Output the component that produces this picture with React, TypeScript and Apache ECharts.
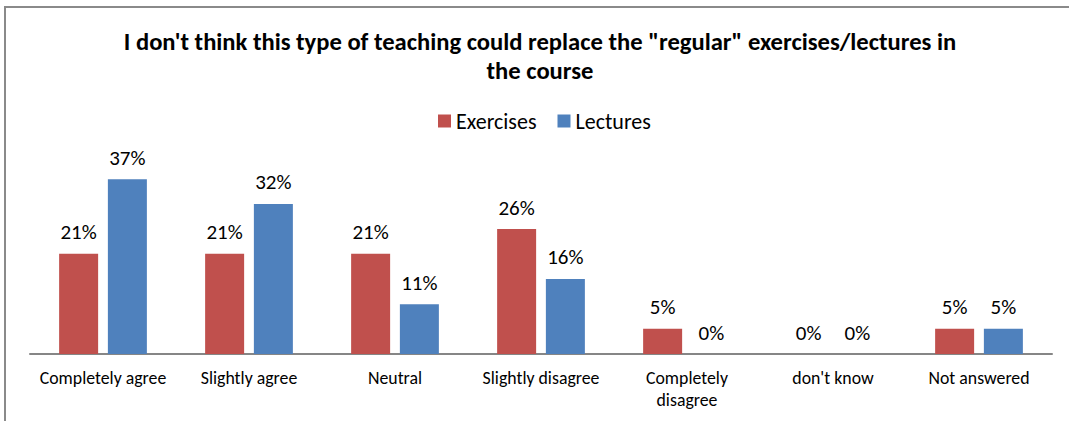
import React, { useEffect, useRef } from "react";
import * as echarts from "echarts";

const categories = [
  "Completely agree",
  "Slightly agree",
  "Neutral",
  "Slightly disagree",
  "Completely disagree",
  "don't know",
  "Not answered",
];
const exercises = [21.1, 21.1, 21.1, 26.3, 5.3, 0, 5.3];
const lectures = [36.8, 31.6, 10.5, 15.8, 0, 0, 5.3];
const titleText =
  "I don't think this type of teaching could replace the \"regular\" exercises/lectures in\nthe course";

const FONT = "Carlito, Lato, 'Liberation Sans', sans-serif";

export default function App() {
  const ref = useRef<HTMLDivElement>(null);
  useEffect(() => {
    if (!ref.current) return;
    const chart = echarts.init(ref.current, undefined, { renderer: "svg" });
    const label = {
      show: true,
      position: "top" as const,
      distance: 11,
      fontSize: 21,
      fontFamily: FONT,
      color: "#000",
      formatter: (p: any) => Math.round(p.value) + "%",
    };
    chart.setOption({
      animation: false,
      backgroundColor: "#fff",
      textStyle: { fontFamily: FONT },
      title: {
        text: titleText,
        left: 535,
        textAlign: "center",
        top: 22,
        textStyle: {
          fontFamily: FONT,
          fontWeight: "bold",
          fontSize: 24.6,
          lineHeight: 29,
          color: "#000",
        },
      },
      legend: {
        data: ["Exercises", "Lectures"],
        left: 433,
        top: 105,
        itemWidth: 13,
        itemHeight: 13,
        itemGap: 21,
        icon: "rect",
        textStyle: { fontFamily: FONT, fontSize: 22, color: "#000" },
      },
      graphic: [
        {
          type: "rect",
          shape: { x: 5, y: 7, width: 1080, height: 440 },
          style: { fill: "none", stroke: "#8a8a8a", lineWidth: 2 },
          silent: true,
        },
      ],
      grid: { left: 30, right: 17, top: 164, bottom: 67, containLabel: false },
      xAxis: {
        type: "category",
        data: categories,
        axisLine: { lineStyle: { color: "#868686", width: 2 } },
        axisTick: { show: false },
        axisLabel: {
          interval: 0,
          margin: 13,
          fontSize: 17.8,
          lineHeight: 22,
          fontFamily: FONT,
          color: "#000",
          formatter: (v: string) => (v.length > 17 ? v.replace(" ", "\n") : v),
        },
      },
      yAxis: {
        type: "value",
        min: 0,
        max: 40,
        show: false,
        splitLine: { show: false },
      },
      series: [
        {
          name: "Exercises",
          type: "bar",
          data: exercises,
          barWidth: 39,
          barGap: "25%",
          itemStyle: { color: "#C0504D" },
          label,
        },
        {
          name: "Lectures",
          type: "bar",
          data: lectures,
          barWidth: 39,
          itemStyle: { color: "#4F81BD" },
          label,
        },
      ],
    });
    return () => chart.dispose();
  }, []);
  return (
    <div
      ref={ref}
      style={{ position: "fixed", left: 0, top: 0, width: 1069, height: 421 }}
    />
  );
}
